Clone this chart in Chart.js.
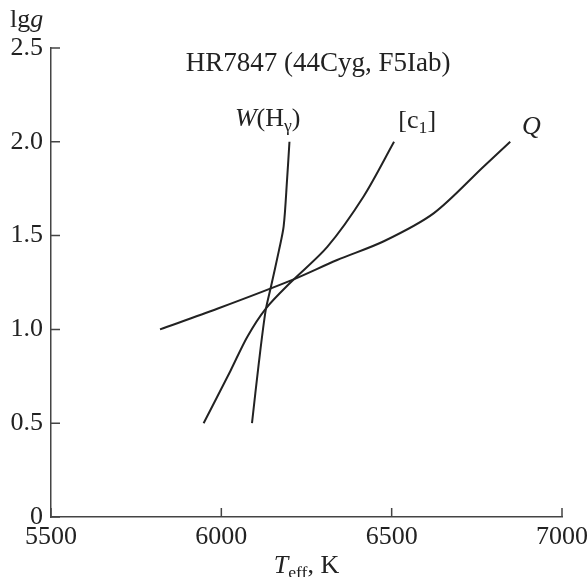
<!DOCTYPE html>
<html>
<head>
<meta charset="utf-8">
<script src="https://cdn.jsdelivr.net/npm/chart.js@4/dist/chart.umd.min.js"></script>
<style>
  html, body { margin: 0; padding: 0; background: #fff; }
  #wrap { width: 587px; height: 577px; }
</style>
</head>
<body>
<div id="wrap"><canvas id="chart" width="587" height="577"></canvas></div>
<script>
// Данные кривых (Teff, lg g)
const wTeff = [6090, 6110, 6130, 6146, 6169, 6183, 6193, 6200];
const wLogg = [0.5, 0.82, 1.10, 1.23, 1.42, 1.55, 1.80, 2.0];
const c1Teff = [5948, 6027, 6076, 6130, 6203, 6311, 6418, 6507];
const c1Logg = [0.5, 0.78, 0.96, 1.11, 1.25, 1.44, 1.71, 2.0];
const qTeff = [5820, 5988, 6203, 6340, 6477, 6624, 6771, 6848];
const qLogg = [1.0, 1.11, 1.26, 1.37, 1.47, 1.62, 1.87, 2.0];

const xTicks = [5500, 6000, 6500, 7000];
const yTicks = [0, 0.5, 1.0, 1.5, 2.0, 2.5];
const yTickLabels = ["0", "0.5", "1.0", "1.5", "2.0", "2.5"];

const SERIF = "'Liberation Serif', 'DejaVu Serif', serif";
const INK = "#222";

function toPoints(xs, ys) {
  return xs.map(function (x, i) { return { x: x, y: ys[i] }; });
}

function curve(xs, ys) {
  return {
    data: toPoints(xs, ys),
    showLine: true,
    borderColor: INK,
    borderWidth: 2,
    pointRadius: 0,
    tension: 0.3,
    fill: false,
  };
}

// рисуем текст из кусков: [текст, курсив?, индекс?]
function drawParts(ctx, parts, x, y, size, align) {
  let total = 0;
  const widths = parts.map(function (p) {
    const s = p[2] ? size * 0.68 : size;
    ctx.font = (p[1] ? "italic " : "") + s + "px " + SERIF;
    const w = ctx.measureText(p[0]).width;
    total += w;
    return w;
  });
  let cx = align === "center" ? x - total / 2 : x;
  parts.forEach(function (p, i) {
    const s = p[2] ? size * 0.68 : size;
    ctx.font = (p[1] ? "italic " : "") + s + "px " + SERIF;
    ctx.fillText(p[0], cx, p[2] ? y + size * 0.3 : y);
    cx += widths[i];
  });
}

const decorPlugin = {
  id: "decor",
  afterDraw: function (chart) {
    const ctx = chart.ctx;
    const xs = chart.scales.x;
    const ys = chart.scales.y;
    const area = chart.chartArea;
    ctx.save();

    // засечки внутрь
    ctx.strokeStyle = "#444";
    ctx.lineWidth = 1.5;
    ctx.beginPath();
    xTicks.forEach(function (v) {
      const px = xs.getPixelForValue(v);
      ctx.moveTo(px, area.bottom);
      ctx.lineTo(px, area.bottom - 9);
    });
    yTicks.forEach(function (v) {
      const py = ys.getPixelForValue(v);
      ctx.moveTo(area.left, py);
      ctx.lineTo(area.left + 9, py);
    });
    ctx.stroke();

    ctx.fillStyle = INK;
    ctx.textBaseline = "middle";
    ctx.textAlign = "left";

    // подпись оси y
    drawParts(ctx, [["lg", false], ["g", true]], 10, 20, 26, "left");
    // подпись оси x
    drawParts(ctx, [["T", true], ["eff", false, true], [", K", false]],
      (area.left + area.right) / 2, 566, 26, "center");

    // заголовок
    ctx.font = "27px " + SERIF;
    ctx.textAlign = "center";
    ctx.fillText("HR7847 (44Cyg, F5Iab)", 318, 64);
    ctx.textAlign = "left";

    // подписи кривых
    drawParts(ctx, [["W", true], ["(H", false], ["γ", false, true], [")", false]],
      xs.getPixelForValue(6136), 119, 26, "center");
    drawParts(ctx, [["[c", false], ["1", false, true], ["]", false]],
      xs.getPixelForValue(6575), 121, 26, "center");
    drawParts(ctx, [["Q", true]], xs.getPixelForValue(6910), 127, 26, "center");

    ctx.restore();
  },
};

const ctx = document.getElementById("chart");
new Chart(ctx, {
  type: "scatter",
  data: {
    datasets: [curve(wTeff, wLogg), curve(c1Teff, c1Logg), curve(qTeff, qLogg)],
  },
  options: {
    responsive: false,
    animation: false,
    events: [],
    layout: { padding: { top: 48, right: 25, left: 0, bottom: 0 } },
    plugins: {
      legend: { display: false },
      tooltip: { enabled: false },
    },
    scales: {
      x: {
        type: "linear",
        min: 5500,
        max: 7000,
        afterBuildTicks: function (scale) {
          scale.ticks = xTicks.map(function (v) { return { value: v }; });
        },
        afterFit: function (scale) {
          scale.height = 60;
          scale.paddingLeft = 0;
          scale.paddingRight = 0;
        },
        grid: { display: false, drawTicks: false },
        border: { display: true, color: "#444", width: 1.5 },
        ticks: {
          color: INK,
          padding: 5,
          maxRotation: 0,
          font: { family: SERIF, size: 26 },
          callback: function (v) { return String(v); },
        },
      },
      y: {
        type: "linear",
        min: 0,
        max: 2.5,
        afterBuildTicks: function (scale) {
          scale.ticks = yTicks.map(function (v) { return { value: v }; });
        },
        afterFit: function (scale) {
          scale.width = 51;
          scale.paddingTop = 0;
          scale.paddingBottom = 0;
        },
        grid: { display: false, drawTicks: false },
        border: { display: true, color: "#444", width: 1.5 },
        ticks: {
          color: INK,
          padding: 8,
          font: { family: SERIF, size: 26 },
          callback: function (v) {
            const i = yTicks.indexOf(v);
            return i >= 0 ? yTickLabels[i] : "";
          },
        },
      },
    },
  },
  plugins: [decorPlugin],
});
</script>
</body>
</html>
